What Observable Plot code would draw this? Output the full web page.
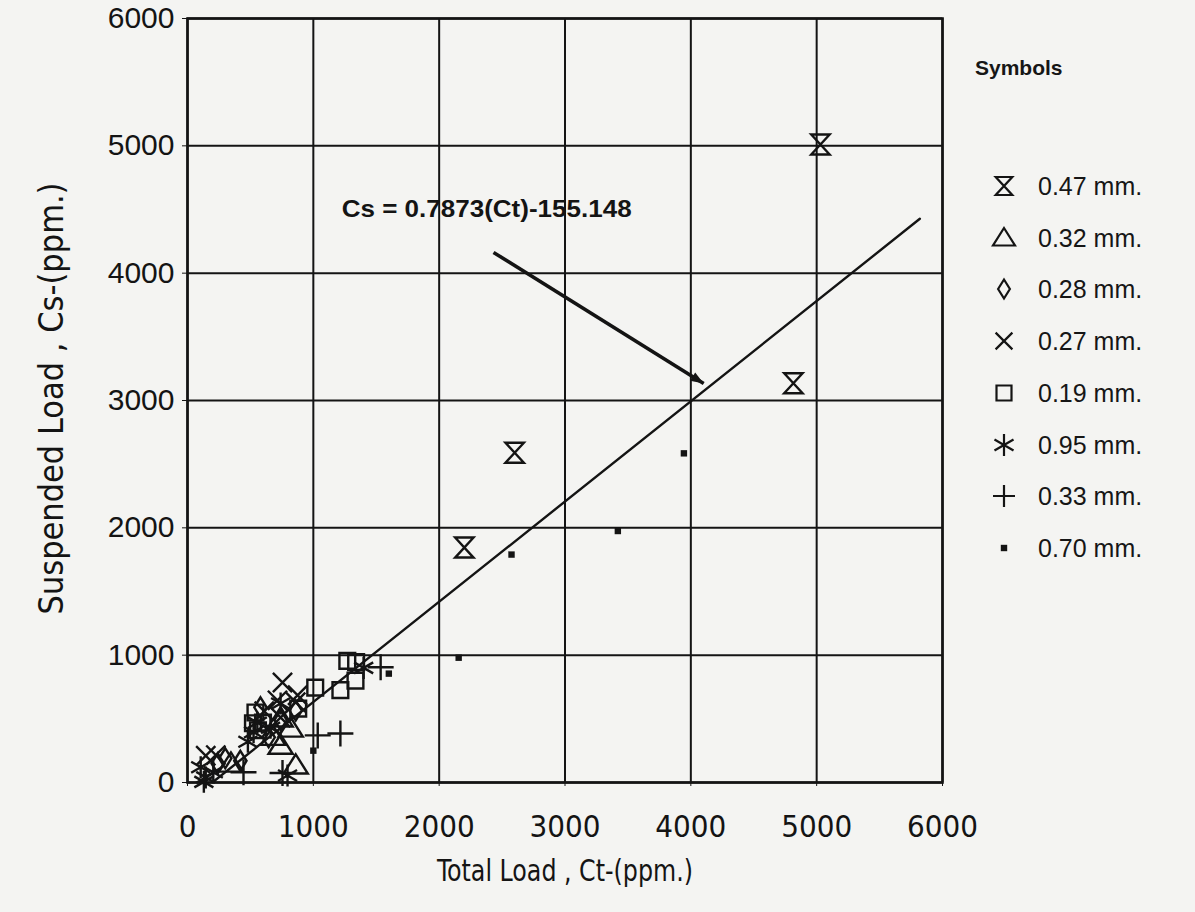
<!DOCTYPE html>
<html><head><meta charset="utf-8">
<script src="https://cdn.jsdelivr.net/npm/d3@7"></script>
<script src="https://cdn.jsdelivr.net/npm/@observablehq/plot@0.6"></script>
<style>
body{margin:0;background:#f4f4f2;}
#wrap{position:relative;width:1195px;height:912px;overflow:hidden;}
#legend{position:absolute;left:0;top:0;width:1195px;height:912px;pointer-events:none;}
.lt{position:absolute;font-family:'Liberation Sans',Arial,sans-serif;color:#161616;white-space:nowrap;}
</style></head><body><div id="wrap"></div>
<script>
// ---- data ----
const ticks = [0, 1000, 2000, 3000, 4000, 5000, 6000];
const xTitle = "Total Load , Ct-(ppm.)";
const yTitle = "Suspended Load , Cs-(ppm.)";
const legendTitle = "Symbols";
const sizes = ["0.47 mm.", "0.32 mm.", "0.28 mm.", "0.27 mm.", "0.19 mm.", "0.95 mm.", "0.33 mm.", "0.70 mm."];

const s047 = [[5030,5010],[4815,3135],[2600,2590],[2200,1845]];
const s032 = [[740,290],[820,425],[740,505],[860,135],[345,150],[680,360]];
const s028 = [[860,565],[740,490],[300,190],[240,150],[580,590],[645,355],[420,170]];
const s027 = [[755,785],[860,630],[715,645],[740,510],[875,685],[145,210],[225,215],[610,560]];
const s019 = [[1270,955],[1340,945],[1335,800],[1215,725],[1015,745],[880,580],[540,550],[520,465],[560,410],[600,470]];
const s095 = [[105,120],[145,40],[205,80],[555,470],[525,395],[795,55],[740,620],[660,430],[130,5],[480,320],[1400,900]];
const s033 = [[1535,905],[1215,385],[1035,370],[445,80],[755,75]];
const s070 = [[3945,2585],[3420,1975],[2575,1790],[2155,980],[1000,250],[1600,855]];

const slope = 0.7873, intercept = -155.148;
const fitX = [200, 5820];
const equation = "Cs = 0.7873(Ct)-155.148";
const eqPos = [1225, 4500];
const arrowFrom = [2432, 4163], arrowTo = [4102, 3134];

// ---- layout ----
const W = 1195, H = 912, mL = 187, mR = 253, mT = 18, mB = 130;

// ---- symbols ----
const R = s => Math.sqrt(s / Math.PI);
const sym = {
  hourglass: {draw(c, s){const r=R(s), w=r*0.92; c.moveTo(-w,-r); c.lineTo(w,-r); c.lineTo(-w,r); c.lineTo(w,r); c.closePath();}},
  triangle: {draw(c, s){const r=R(s); c.moveTo(0,-r); c.lineTo(r*1.1,r*0.75); c.lineTo(-r*1.1,r*0.75); c.closePath();}},
  diamond: {draw(c, s){const r=R(s); c.moveTo(0,-r); c.lineTo(r*0.62,0); c.lineTo(0,r); c.lineTo(-r*0.62,0); c.closePath();}},
  times: {draw(c, s){const r=R(s)*0.8; c.moveTo(-r,-r); c.lineTo(r,r); c.moveTo(r,-r); c.lineTo(-r,r);}},
  square: {draw(c, s){const r=R(s)*0.75; c.rect(-r,-r,2*r,2*r);}},
  asterisk: {draw(c, s){const r=R(s); for (const a of [90, 30, 150]) {const t=a*Math.PI/180, dx=Math.cos(t)*r, dy=Math.sin(t)*r; c.moveTo(-dx,-dy); c.lineTo(dx,dy);}}},
  plus: {draw(c, s){const r=R(s); c.moveTo(-r,0); c.lineTo(r,0); c.moveTo(0,-r); c.lineTo(0,r);}},
  block: {draw(c, s){const r=R(s); c.rect(-r,-r,2*r,2*r);}},
  // arrow head pointing to +x, tip at origin
  wedge: {draw(c, s){const r=R(s); c.moveTo(0,0); c.lineTo(-2*r,-0.75*r); c.lineTo(-2*r,0.75*r); c.closePath();}}
};

const series = [
  {data: s047, symbol: sym.hourglass, r: 10, lr: 9, fill: false},
  {data: s032, symbol: sym.triangle, r: 11, lr: 10, fill: false},
  {data: s028, symbol: sym.diamond, r: 10, lr: 9.5, fill: false},
  {data: s027, symbol: sym.times, r: 12, lr: 10.5, fill: false},
  {data: s019, symbol: sym.square, r: 10.5, lr: 10, fill: false},
  {data: s095, symbol: sym.asterisk, r: 11, lr: 11, fill: false},
  {data: s033, symbol: sym.plus, r: 13, lr: 11, fill: false},
  {data: s070, symbol: sym.block, r: 3.2, lr: 3.2, fill: true}
];

const ink = "#141414";
const narrow = "'Liberation Sans Narrow','DejaVu Sans Condensed','Liberation Sans',sans-serif";
const sans = "'Liberation Sans',Arial,sans-serif";

const fit = fitX.map(x => ({x, y: slope * x + intercept}));

// arrow direction in pixels (from the scale ranges)
const kx = (W - mL - mR) / 6000, ky = (H - mT - mB) / 6000;
const ang = Math.atan2((arrowFrom[1] - arrowTo[1]) * ky, (arrowTo[0] - arrowFrom[0]) * kx) * 180 / Math.PI;

const chart = Plot.plot({
  width: W, height: H,
  marginLeft: mL, marginRight: mR, marginTop: mT, marginBottom: mB,
  style: {background: "transparent", color: ink, fontFamily: sans},
  x: {domain: [0, 6000]},
  y: {domain: [0, 6000]},
  marks: [
    Plot.gridX(ticks, {stroke: ink, strokeOpacity: 1, strokeWidth: 2}),
    Plot.gridY(ticks, {stroke: ink, strokeOpacity: 1, strokeWidth: 2}),
    Plot.frame({stroke: ink, strokeWidth: 2.6}),
    Plot.axisX(ticks, {tickSize: 4, tickPadding: 28, fontSize: 31, fontFamily: narrow, label: null, stroke: ink, tickFormat: d => String(d)}),
    Plot.axisY(ticks, {tickSize: 5, tickPadding: 8, fontSize: 30, fontFamily: sans, label: null, stroke: ink, tickFormat: d => String(d)}),
    Plot.text([xTitle], {frameAnchor: "bottom", dy: 98, text: d => d, fontSize: 30, fontFamily: narrow, fill: ink, className: "xtitle"}),
    Plot.text([yTitle], {frameAnchor: "left", dx: -135, dy: 214, rotate: -90, textAnchor: "start", text: d => d, fontSize: 34, fontFamily: narrow, fill: ink, className: "ytitle"}),
    Plot.line(fit, {x: "x", y: "y", stroke: ink, strokeWidth: 2.4}),
    Plot.link([{a: arrowFrom, b: arrowTo}], {x1: d => d.a[0], y1: d => d.a[1], x2: d => d.b[0], y2: d => d.b[1], stroke: ink, strokeWidth: 3.6}),
    Plot.dot([arrowTo], {x: d => d[0], y: d => d[1], symbol: sym.wedge, r: 6.5, rotate: ang, fill: ink, stroke: "none"}),
    Plot.text([equation], {x: eqPos[0], y: eqPos[1], text: d => d, textAnchor: "start", fontSize: 24, fontWeight: "bold", fontFamily: sans, fill: ink, className: "eq"}),
    ...series.map(s => Plot.dot(s.data, {x: d => d[0], y: d => d[1], symbol: s.symbol, r: s.r, stroke: s.fill ? "none" : ink, fill: s.fill ? ink : "none", strokeWidth: 2.4}))
  ]
});
document.getElementById("wrap").appendChild(chart);

// enforce title lengths as in the picture
d3.select(chart).selectAll(".xtitle text").attr("textLength", 256).attr("lengthAdjust", "spacingAndGlyphs");
d3.select(chart).selectAll(".ytitle text").attr("textLength", 432).attr("lengthAdjust", "spacingAndGlyphs");
d3.select(chart).selectAll(".eq text").attr("textLength", 290).attr("lengthAdjust", "spacingAndGlyphs");

// ---- legend (HTML beside the plot) ----
const leg = document.createElement("div");
leg.id = "legend";
const t = document.createElement("div");
t.className = "lt";
t.textContent = legendTitle;
Object.assign(t.style, {left: "975px", top: "56px", fontSize: "21px", fontWeight: "bold"});
leg.appendChild(t);
series.forEach((s, i) => {
  const cy = 186 + i * 51.7;
  const svg = d3.create("svg").attr("width", 40).attr("height", 40)
    .style("position", "absolute").style("left", (1004 - 20) + "px").style("top", (cy - 20) + "px");
  svg.append("path").attr("transform", "translate(20,20)")
    .attr("d", d3.symbol(s.symbol, Math.PI * s.lr * s.lr)())
    .attr("fill", s.fill ? ink : "none").attr("stroke", s.fill ? "none" : ink).attr("stroke-width", 2.2);
  leg.appendChild(svg.node());
  const l = document.createElement("div");
  l.className = "lt";
  l.textContent = sizes[i];
  Object.assign(l.style, {left: "1038px", top: (cy - 15) + "px", fontSize: "25px", lineHeight: "30px"});
  leg.appendChild(l);
});
document.getElementById("wrap").appendChild(leg);
</script></body></html>
